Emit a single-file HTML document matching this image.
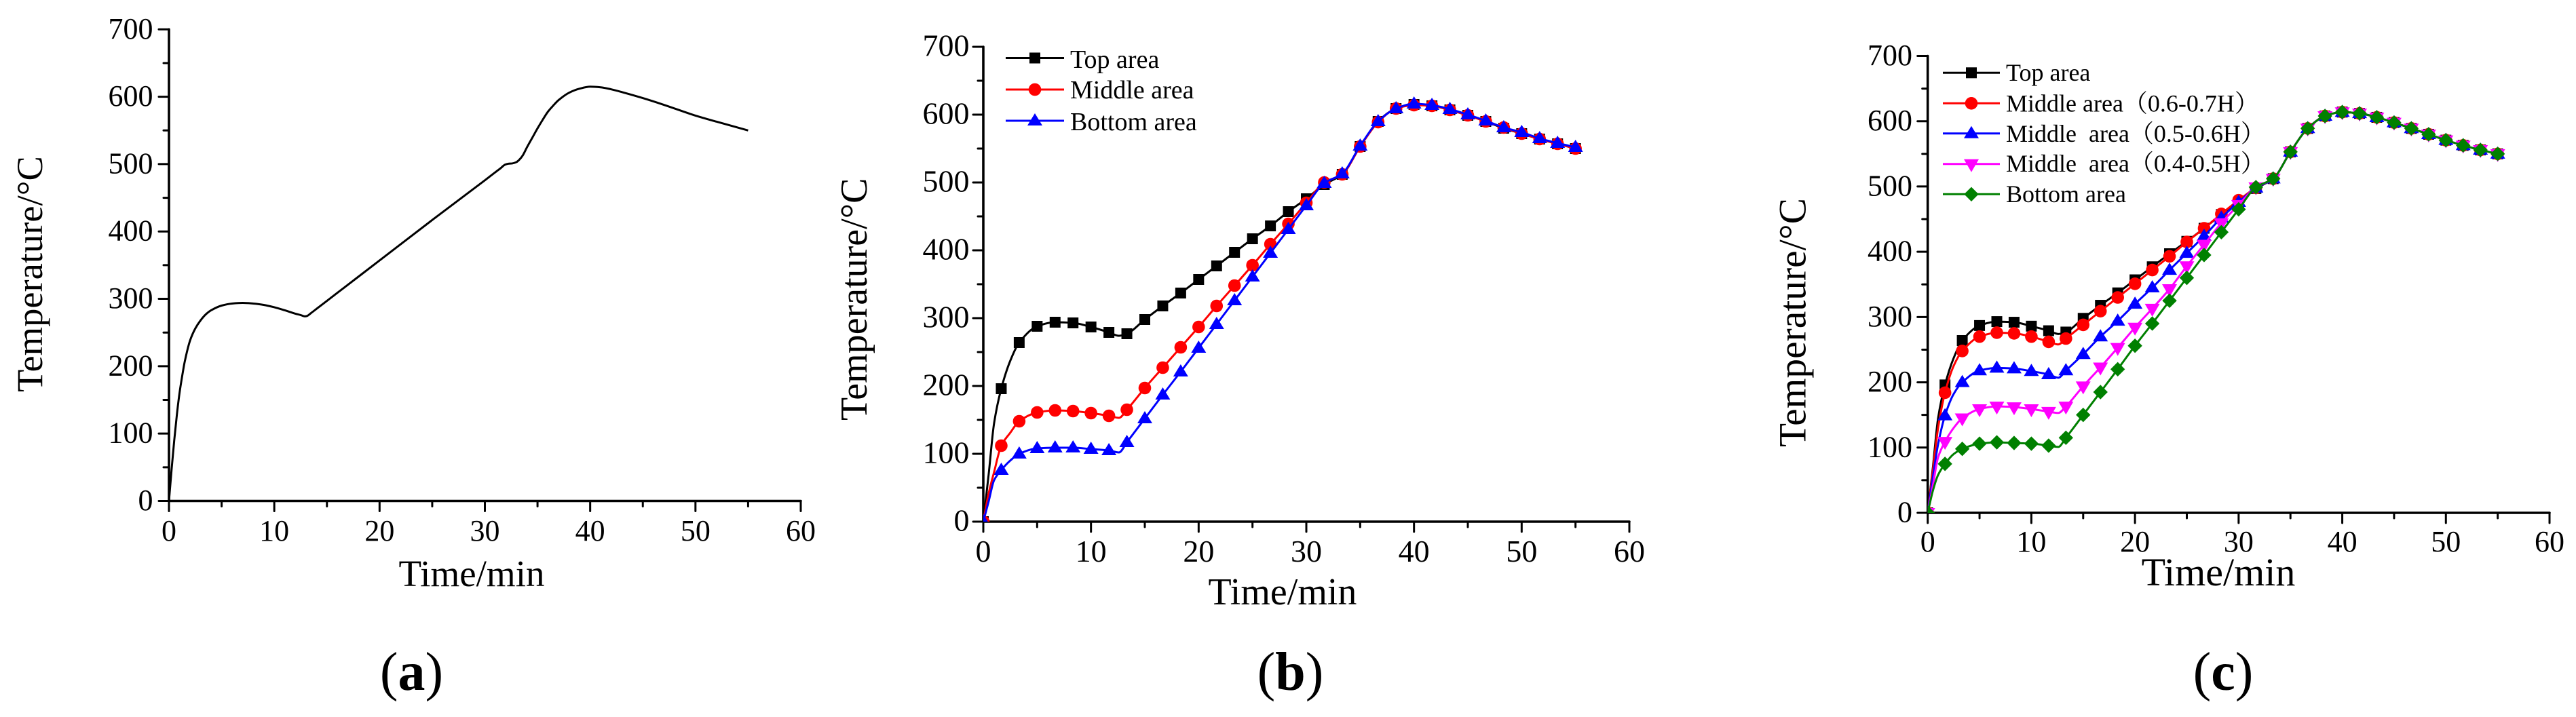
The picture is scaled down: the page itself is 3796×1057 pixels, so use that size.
<!DOCTYPE html>
<html lang="en">
<head>
<meta charset="utf-8">
<title>Temperature versus time charts</title>
<style>
  html, body { margin: 0; padding: 0; background: #fff; }
  svg { display: block; }
  text { font-family: "Liberation Serif", "Noto Serif CJK SC", serif; fill: #000; white-space: pre; }
</style>
</head>
<body>
<svg id="figure" xmlns="http://www.w3.org/2000/svg" width="3796" height="1057" viewBox="0 0 3796 1057">
  <rect x="0" y="0" width="3796" height="1057" fill="#fff"/>

  <g id="panel-a"></g>
  <g id="panel-b"></g>
  <g id="panel-c"></g>

  <text x="695" y="864" font-size="55" text-anchor="middle">Time/min</text>
  <text transform="translate(62,578) rotate(-90)" font-size="54.5">Temperature/°C</text>
  <text x="606.5" y="1017" font-size="80" text-anchor="middle">(<tspan font-weight="bold">a</tspan>)</text>

  <text x="1890" y="891" font-size="56" text-anchor="middle">Time/min</text>
  <text transform="translate(1277,620) rotate(-90)" font-size="56">Temperature/°C</text>
  <text x="1901.5" y="1017" font-size="80" text-anchor="middle">(<tspan font-weight="bold">b</tspan>)</text>
  <text x="1577" y="100" font-size="38">Top area</text>
  <text x="1577" y="145" font-size="38">Middle area</text>
  <text x="1577" y="192" font-size="38">Bottom area</text>

  <text x="3269" y="863" font-size="58" text-anchor="middle">Time/min</text>
  <text transform="translate(2660.5,659) rotate(-90)" font-size="57.5">Temperature/°C</text>
  <text x="3276" y="1017" font-size="80" text-anchor="middle">(<tspan font-weight="bold">c</tspan>)</text>
  <text x="2956" y="119" font-size="36">Top area</text>
  <text x="2956" y="164.5" font-size="36">Middle area（0.6-0.7H）</text>
  <text x="2956" y="209" font-size="36">Middle  area（0.5-0.6H）</text>
  <text x="2956" y="253" font-size="36">Middle  area（0.4-0.5H）</text>
  <text x="2956" y="298" font-size="36">Bottom area</text>
</svg>

<script>
// ---------- chart data ----------
const xTickLabels = ["0", "10", "20", "30", "40", "50", "60"];
const yTickLabels = ["0", "100", "200", "300", "400", "500", "600", "700"];

// Panel (a): furnace curve
const curveTimes = [0,0.25,0.5,0.75,1,1.25,1.5,2,2.5,3,3.5,4,5,6,7,8,9,10,11,12,12.5,12.9,13.1,13.5,14,16,20,25,30,31,31.5,31.9,32.2,32.6,33,33.3,33.6,34,34.5,35,35.5,36,36.5,37,38,39,40,41,42,43,45,47,50,52,55];
const curveTemps = [0,47,90,128,160,185,207,238,256,268,277,283,290,293,294,293,291,287.5,283,278,276,274,274.5,279,285,309,357,417,476,488,494,499,500.5,501,503,507,513,525,539,553,566,578,587,595,606,612,615,614,611,607,598,588,572,563,550];

// Panels (b) and (c): marker times shared by every series
const markerTimes = [0,1.667,3.333,5,6.667,8.333,10,11.667,13.333,15,16.667,18.333,20,21.667,23.333,25,26.667,28.333,30,31.667,33.333,35,36.667,38.333,40,41.667,43.333,45,46.667,48.333,50,51.667,53.333,55];
// Extra line-only knots between markers
const bendTimes = [0.5, 1, 2.5, 12.6];

const bTop    = [0,196,264,288,294,293,287,279,277,298,318,337,357,377,397,417,436,457,476,497,512,553,590,609,615,613,607,599,590,580,572,564,557,550];
const bMiddle = [0,112,148,161,164,163,160,156,165,197,227,257,287,318,348,378,409,439,470,500,512,553,589,609,614,613,607,599,590,581,572,564,557,550];
const bBottom = [0,76,100,108,109,109,107,105,117,152,187,221,256,291,326,361,396,431,466,499,513,554,590,609,616,614,608,600,591,581,574,565,558,552];
const bTopBend    = [70,145,237,274];
const bMiddleBend = [42,73,131,153];
const bBottomBend = [30,61,90,102];

const cTop       = [0,196,264,287,293,292,286,279,277,298,318,337,357,377,397,416,436,457,476,497,512,553,589,608,614,612,606,598,589,580,571,563,556,550];
const cMiddleHi  = [0,184,248,270,276,275,270,262,267,288,309,330,351,372,393,415,436,458,479,498,512,553,589,608,614,612,606,598,589,580,571,563,556,550];
const cMiddleMid = [0,149,200,218,222,221,217,212,218,243,270,294,320,345,372,398,424,452,476,498,512,553,589,608,614,612,606,598,589,580,571,563,556,550];
const cMiddleLow = [0,109,145,159,163,162,159,155,163,194,223,253,284,313,343,378,411,444,472,499,512,553,589,608,614,612,606,598,589,580,571,563,556,550];
const cBottom    = [0,75,98,106,108,107,106,103,115,150,185,220,256,290,325,360,395,430,465,499,512,553,589,608,614,612,606,598,589,580,571,563,556,550];
const cTopBend       = [70,145,237,274];
const cMiddleHiBend  = [65,130,225,258];
const cMiddleMidBend = [55,105,182,207];
const cMiddleLowBend = [42,85,130,153];
const cBottomBend    = [34,58,90,101];

// ---------- layout ----------
const SVG_NS = "http://www.w3.org/2000/svg";

const frameA = { id: "a", x0: 249, x60: 1180, y0: 738.5, y700: 43.3, labelRight: 225.5, xBase: 797, fontSize: 44 };
const frameB = { id: "b", x0: 1449, x60: 2401, y0: 769, y700: 69, labelRight: 1428.5, xBase: 828, fontSize: 46 };
const frameC = { id: "c", x0: 2840.7, x60: 3757, y0: 756, y700: 82.5, labelRight: 2818, xBase: 813, fontSize: 44 };

function makeX(f) { return function (t) { return f.x0 + t * (f.x60 - f.x0) / 60; }; }
function makeY(f) { return function (v) { return f.y0 + v * (f.y700 - f.y0) / 700; }; }

function make(tag, attrs, parent) {
  const el = document.createElementNS(SVG_NS, tag);
  for (const k in attrs) el.setAttribute(k, attrs[k]);
  parent.appendChild(el);
  return el;
}

// Monotone cubic path through points (sorted by x)
function smoothPath(xs, ys) {
  const n = xs.length;
  const d = [];
  for (let i = 0; i < n - 1; i++) d.push((ys[i + 1] - ys[i]) / (xs[i + 1] - xs[i]));
  const m = [d[0]];
  for (let i = 1; i < n - 1; i++) {
    if (d[i - 1] * d[i] <= 0) m.push(0);
    else m.push(2 * d[i - 1] * d[i] / (d[i - 1] + d[i]));
  }
  m.push(d[n - 2]);
  let p = "M" + xs[0].toFixed(2) + " " + ys[0].toFixed(2);
  for (let i = 0; i < n - 1; i++) {
    const h = (xs[i + 1] - xs[i]) / 3;
    p += "C" + (xs[i] + h).toFixed(2) + " " + (ys[i] + m[i] * h).toFixed(2) + " " +
         (xs[i + 1] - h).toFixed(2) + " " + (ys[i + 1] - m[i + 1] * h).toFixed(2) + " " +
         xs[i + 1].toFixed(2) + " " + ys[i + 1].toFixed(2);
  }
  return p;
}

function drawMarker(shape, cx, cy, color, parent) {
  let el;
  if (shape === "square") {
    el = make("rect", { x: cx - 8, y: cy - 8, width: 16, height: 16, fill: color }, parent);
  } else if (shape === "circle") {
    el = make("circle", { cx: cx, cy: cy, r: 9.3, fill: color }, parent);
  } else if (shape === "up") {
    el = make("polygon", { points: (cx) + "," + (cy - 11) + " " + (cx + 11) + "," + (cy + 7) + " " + (cx - 11) + "," + (cy + 7), fill: color }, parent);
  } else if (shape === "down") {
    el = make("polygon", { points: (cx) + "," + (cy + 12) + " " + (cx + 11) + "," + (cy - 7) + " " + (cx - 11) + "," + (cy - 7), fill: color }, parent);
  } else {
    el = make("polygon", { points: (cx) + "," + (cy - 10.7) + " " + (cx + 10.7) + "," + cy + " " + (cx) + "," + (cy + 10.7) + " " + (cx - 10.7) + "," + cy, fill: color }, parent);
  }
  return el;
}

function drawAxes(f, parent) {
  const x = makeX(f);
  const y = makeY(f);
  const axes = make("g", { stroke: "#000", "stroke-linecap": "round" }, parent);
  
  

  const xAxis = make("line", { x1: x(0), y1: f.y0, x2: x(60), y2: f.y0, "stroke-width": 3.6 }, axes);
  
  
  const yAxis = make("line", { x1: x(0), y1: f.y0, x2: x(0), y2: y(700), "stroke-width": 3.6 }, axes);
  
  

  xTickLabels.forEach(function (label) {
    const t = Number(label);
    const tick = make("line", { x1: x(t), y1: f.y0, x2: x(t), y2: f.y0 + 15, "stroke-width": 3 }, axes);
    
    
    if (t < 60) {
      const minor = make("line", { x1: x(t + 5), y1: f.y0, x2: x(t + 5), y2: f.y0 + 8, "stroke-width": 3 }, axes);
      
      
    }
    const txt = make("text", { x: x(t), y: f.xBase, "font-size": f.fontSize, "text-anchor": "middle", stroke: "none" }, parent);
    
    
    txt.textContent = label;
  });

  yTickLabels.forEach(function (label) {
    const v = Number(label);
    const tick = make("line", { x1: x(0) - 15, y1: y(v), x2: x(0), y2: y(v), "stroke-width": 3 }, axes);
    
    
    if (v < 700) {
      const minor = make("line", { x1: x(0) - 8, y1: y(v + 50), x2: x(0), y2: y(v + 50), "stroke-width": 3 }, axes);
      
      
    }
    const txt = make("text", { x: f.labelRight, y: y(v) + 13.5, "font-size": f.fontSize, "text-anchor": "end", stroke: "none" }, parent);
    
    
    txt.textContent = label;
  });
}

function addClip(f, root) {
  const defs = make("defs", {}, root);
  const clip = make("clipPath", { id: "clip-" + f.id }, defs);
  make("rect", { x: f.x0, y: f.y700 - 20, width: f.x60 - f.x0 + 20, height: f.y0 - f.y700 + 20 }, clip);
}

function drawSeries(f, parent, s) {
  const x = makeX(f);
  const y = makeY(f);
  const group = make("g", { "clip-path": "url(#clip-" + f.id + ")" }, parent);
  
  

  const knots = markerTimes.map(function (t, i) { return [t, s.values[i]]; })
    .concat(bendTimes.map(function (t, i) { return [t, s.bend[i]]; }))
    .sort(function (a, b) { return a[0] - b[0]; });
  const line = make("path", {
    d: smoothPath(knots.map(function (k) { return x(k[0]); }), knots.map(function (k) { return y(k[1]); })),
    fill: "none", stroke: s.color, "stroke-width": 3, "stroke-linejoin": "round"
  }, group);
  
  

  markerTimes.forEach(function (t, i) {
    const m = drawMarker(s.shape, x(t), y(s.values[i]), s.color, group);
    
    
  });
}

function drawLegendKey(parent, s, xStart, xEnd, yPos) {
  const key = make("g", {}, parent);
  
  
  const l = make("line", { x1: xStart, y1: yPos, x2: xEnd, y2: yPos, stroke: s.color, "stroke-width": 3 }, key);
  
  
  const m = drawMarker(s.shape, (xStart + xEnd) / 2, yPos, s.color, key);
  
  
}

// ---------- panel (a) ----------
(function () {
  const root = document.getElementById("panel-a");
  const x = makeX(frameA);
  const y = makeY(frameA);
  drawAxes(frameA, root);
  const curve = make("path", {
    d: smoothPath(curveTimes.map(x), curveTemps.map(y)),
    fill: "none", stroke: "#000", "stroke-width": 3, "stroke-linejoin": "round"
  }, root);
  
  
})();

// ---------- panel (b) ----------
(function () {
  const root = document.getElementById("panel-b");
  addClip(frameB, root);
  drawAxes(frameB, root);
  const series = [
    { name: "b-top-area", color: "#000000", shape: "square", values: bTop, bend: bTopBend },
    { name: "b-middle-area", color: "#ff0000", shape: "circle", values: bMiddle, bend: bMiddleBend },
    { name: "b-bottom-area", color: "#0000ff", shape: "up", values: bBottom, bend: bBottomBend }
  ];
  const legendRows = [85.5, 132, 178];
  series.forEach(function (s, i) {
    drawSeries(frameB, root, s);
    drawLegendKey(root, s, 1482, 1568, legendRows[i]);
  });
})();

// ---------- panel (c) ----------
(function () {
  const root = document.getElementById("panel-c");
  addClip(frameC, root);
  drawAxes(frameC, root);
  const series = [
    { name: "c-top-area", color: "#000000", shape: "square", values: cTop, bend: cTopBend },
    { name: "c-middle-06-07h", color: "#ff0000", shape: "circle", values: cMiddleHi, bend: cMiddleHiBend },
    { name: "c-middle-05-06h", color: "#0000ff", shape: "up", values: cMiddleMid, bend: cMiddleMidBend },
    { name: "c-middle-04-05h", color: "#ff00ff", shape: "down", values: cMiddleLow, bend: cMiddleLowBend },
    { name: "c-bottom-area", color: "#008000", shape: "diamond", values: cBottom, bend: cBottomBend }
  ];
  const legendRows = [107.3, 152.3, 196.7, 241.7, 286.3];
  series.forEach(function (s, i) {
    drawSeries(frameC, root, s);
    drawLegendKey(root, s, 2863, 2947, legendRows[i]);
  });
})();
</script>
</body>
</html>
